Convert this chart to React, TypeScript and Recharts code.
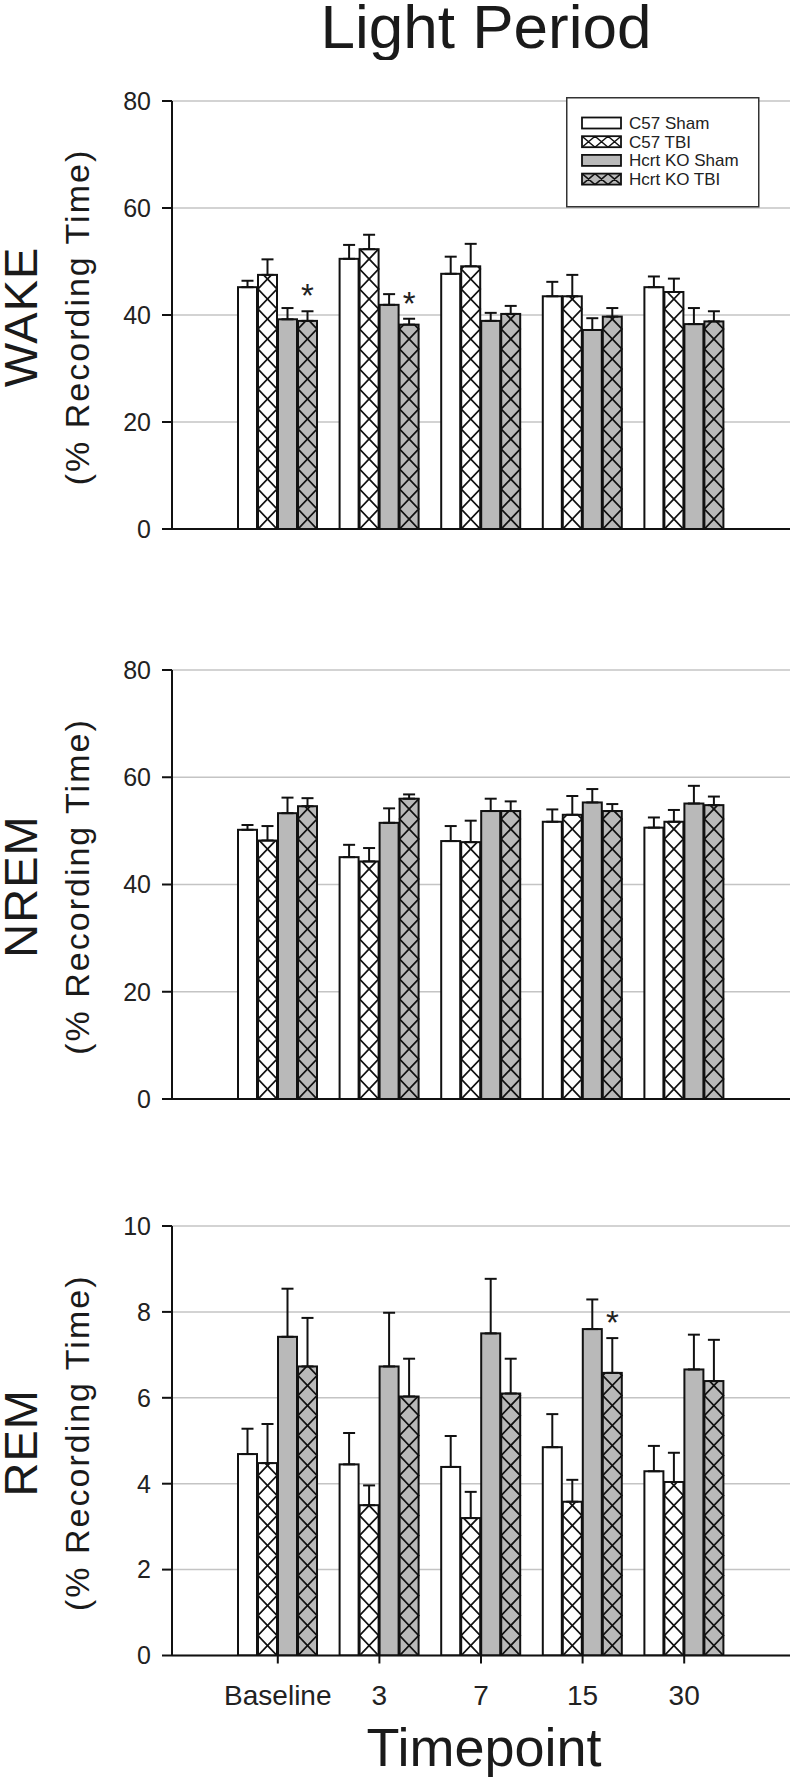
import React from 'react';
import {
  BarChart,
  Bar,
  XAxis,
  YAxis,
  CartesianGrid,
  ErrorBar,
  Legend,
} from 'recharts';

const FONT = '"Liberation Sans", Arial, sans-serif';

const timepoints = ['Baseline', '3', '7', '15', '30'];
const groups = ['C57 Sham', 'C57 TBI', 'Hcrt KO Sham', 'Hcrt KO TBI'];
const groupFill = ['#ffffff', '#ffffff', '#b9b9b9', '#b9b9b9'];
const groupHatch = [false, true, false, true];

// WAKE (% recording time), mean and SEM
const wakeC57Sham = [45.2, 50.5, 47.7, 43.5, 45.2];
const wakeC57ShamSem = [1.2, 2.6, 3.2, 2.7, 2.0];
const wakeC57Tbi = [47.5, 52.3, 49.1, 43.5, 44.3];
const wakeC57TbiSem = [2.9, 2.7, 4.2, 4.0, 2.5];
const wakeKoSham = [39.2, 41.9, 38.9, 37.2, 38.3];
const wakeKoShamSem = [2.1, 2.0, 1.5, 2.2, 3.0];
const wakeKoTbi = [38.9, 38.2, 40.2, 39.7, 38.8];
const wakeKoTbiSem = [1.8, 1.1, 1.5, 1.6, 1.9];
const wakeKoTbiSig = [1, 1, 0, 0, 0];

// NREM
const nremC57Sham = [50.2, 45.1, 48.1, 51.7, 50.6];
const nremC57ShamSem = [0.9, 2.3, 2.8, 2.3, 1.9];
const nremC57Tbi = [48.2, 44.3, 47.9, 53.0, 51.7];
const nremC57TbiSem = [2.7, 2.5, 4.0, 3.5, 2.2];
const nremKoSham = [53.3, 51.5, 53.7, 55.3, 55.1];
const nremKoShamSem = [2.9, 2.7, 2.3, 2.5, 3.3];
const nremKoTbi = [54.6, 56.0, 53.7, 53.7, 54.8];
const nremKoTbiSem = [1.5, 0.8, 1.8, 1.3, 1.6];

// REM
const remC57Sham = [4.69, 4.45, 4.39, 4.85, 4.29];
const remC57ShamSem = [0.59, 0.73, 0.72, 0.77, 0.59];
const remC57Tbi = [4.48, 3.5, 3.2, 3.58, 4.04];
const remC57TbiSem = [0.91, 0.46, 0.61, 0.51, 0.68];
const remKoSham = [7.42, 6.73, 7.5, 7.6, 6.66];
const remKoShamSem = [1.12, 1.25, 1.27, 0.69, 0.81];
const remKoTbi = [6.73, 6.03, 6.1, 6.58, 6.39];
const remKoTbiSem = [1.13, 0.88, 0.81, 0.81, 0.96];
const remKoTbiSig = [0, 0, 0, 1, 0];

const pctTicks = [0, 20, 40, 60, 80];
const remTicks = [0, 2, 4, 6, 8, 10];

function buildRows(means: number[][], sems: number[][], sig: number[] = []) {
  return timepoints.map((tp, i) => {
    const row: any = { tp };
    means.forEach((m, g) => {
      row[`g${g}`] = m[i];
      row[`e${g}`] = [0, sems[g][i]];
    });
    row.s3 = sig[i] || 0;
    return row;
  });
}

const wakeRows = buildRows(
  [wakeC57Sham, wakeC57Tbi, wakeKoSham, wakeKoTbi],
  [wakeC57ShamSem, wakeC57TbiSem, wakeKoShamSem, wakeKoTbiSem],
  wakeKoTbiSig
);
const nremRows = buildRows(
  [nremC57Sham, nremC57Tbi, nremKoSham, nremKoTbi],
  [nremC57ShamSem, nremC57TbiSem, nremKoShamSem, nremKoTbiSem]
);
const remRows = buildRows(
  [remC57Sham, remC57Tbi, remKoSham, remKoTbi],
  [remC57ShamSem, remC57TbiSem, remKoShamSem, remKoTbiSem],
  remKoTbiSig
);

// bar with optional cross-hatch, plus the significance star above its error bar
function HatchBar(props: any) {
  const { x, y, width, height, fill, hatch, g, payload } = props;
  if (!height || height <= 0) return null;
  const period = 20;
  const yb = y + height;
  const paths: string[] = [];
  if (hatch) {
    for (const startLeft of [true, false]) {
      let left = startLeft;
      let cy = yb;
      let d = `M${left ? x : x + width},${cy}`;
      while (cy > y + 0.01) {
        const ny = cy - period;
        if (ny < y) {
          const t = (cy - y) / period;
          const px = left ? x + t * width : x + width - t * width;
          d += ` L${px},${y}`;
          break;
        }
        d += ` L${left ? x + width : x},${ny}`;
        left = !left;
        cy = ny;
      }
      paths.push(d);
    }
  }
  let star = null;
  if (payload && payload[`s${g}`]) {
    const val = payload[`g${g}`];
    const sem = payload[`e${g}`][1];
    const top = y - (sem * height) / val;
    star = (
      <text x={x + width / 2} y={top - 4} textAnchor="middle" fontSize={33} fill="#222">
        *
      </text>
    );
  }
  return (
    <g>
      <rect x={x} y={y} width={width} height={height} fill={fill} />
      {paths.map((d, i) => (
        <path key={i} d={d} fill="none" stroke="#111" strokeWidth={1.8} />
      ))}
      <rect x={x} y={y} width={width} height={height} fill="none" stroke="#111" strokeWidth={2} />
      {star}
    </g>
  );
}

function YTitle(props: any) {
  const vb = props.viewBox || {};
  const cy = vb.y + vb.height / 2 + 2;
  return (
    <g>
      <text
        transform={`translate(37, ${cy}) rotate(-90)`}
        textAnchor="middle"
        fontSize={47}
        letterSpacing={1}
        fill="#1a1a1a"
      >
        {props.main}
      </text>
      <text
        transform={`translate(89, ${cy}) rotate(-90)`}
        textAnchor="middle"
        fontSize={34}
        letterSpacing={2}
        fill="#1a1a1a"
      >
        (% Recording Time)
      </text>
    </g>
  );
}

function XTitle(props: any) {
  const vb = props.viewBox || {};
  return (
    <text x={vb.x + vb.width / 2 + 3} y={vb.y + 110.5} textAnchor="middle" fontSize={54} fill="#1a1a1a">
      Timepoint
    </text>
  );
}

function LegendBox() {
  return (
    <svg width={194} height={111} style={{ display: 'block' }}>
      <rect x={0.75} y={0.75} width={192} height={109} fill="#fff" stroke="#333" strokeWidth={1.5} />
      {groups.map((name, i) => {
        const cy = 26 + i * 18.7;
        const top = cy - 5.5;
        let d = '';
        if (groupHatch[i]) {
          for (let k = 0; k < 3; k++) {
            const x0 = 16 + 13 * k;
            d += `M${x0},${top} L${x0 + 13},${top + 11} M${x0 + 13},${top} L${x0},${top + 11} `;
          }
        }
        return (
          <g key={name}>
            <rect x={16} y={top} width={39} height={11} fill={groupFill[i]} />
            {d && <path d={d} stroke="#111" strokeWidth={1.5} fill="none" />}
            <rect x={16} y={top} width={39} height={11} fill="none" stroke="#111" strokeWidth={1.8} />
            <text x={63} y={cy + 6} fontSize={17} fill="#222">
              {name}
            </text>
          </g>
        );
      })}
    </svg>
  );
}

interface PanelProps {
  top: number;
  height: number;
  marginTop: number;
  xHeight: number;
  title: string;
  ticks: number[];
  rows: any[];
  showX?: boolean;
  legend?: boolean;
}

function Panel({ top, height, marginTop, xHeight, title, ticks, rows, showX, legend }: PanelProps) {
  return (
    <div style={{ position: 'absolute', left: 0, top }}>
      <BarChart
        width={792}
        height={height}
        data={rows}
        margin={{ top: marginTop, right: 2, bottom: 0, left: 0 }}
        barGap={1}
        barCategoryGap={11}
      >
        <CartesianGrid vertical={false} stroke="#c4c4c4" strokeWidth={1.5} />
        <XAxis
          dataKey="tp"
          padding={{ left: 55, right: 55 }}
          height={xHeight}
          interval={0}
          tickSize={8}
          tickMargin={22}
          axisLine={{ stroke: '#111', strokeWidth: 2 }}
          tickLine={{ stroke: '#111', strokeWidth: 2 }}
          tick={showX ? { fontSize: 28, fill: '#222' } : false}
          label={showX ? (p: any) => <XTitle {...p} /> : undefined}
        />
        <YAxis
          domain={[0, ticks[ticks.length - 1]]}
          ticks={ticks}
          allowDataOverflow
          width={172}
          tickSize={10}
          tickMargin={11}
          axisLine={{ stroke: '#111', strokeWidth: 2 }}
          tickLine={{ stroke: '#111', strokeWidth: 2 }}
          tick={{ fontSize: 25, fill: '#222' }}
          label={(p: any) => <YTitle {...p} main={title} />}
        />
        {groups.map((name, g) => (
          <Bar
            key={name}
            dataKey={`g${g}`}
            name={name}
            fill={groupFill[g]}
            isAnimationActive={false}
            shape={(p: any) => <HatchBar {...p} hatch={groupHatch[g]} g={g} />}
          >
            <ErrorBar dataKey={`e${g}`} width={6} stroke="#111" strokeWidth={2} direction="y" />
          </Bar>
        ))}
        {legend && (
          <Legend
            layout="vertical"
            align="center"
            verticalAlign="middle"
            content={() => <LegendBox />}
            wrapperStyle={{ left: 566, top: 37, width: 194 }}
          />
        )}
      </BarChart>
    </div>
  );
}

export default function App() {
  return (
    <div
      style={{
        position: 'absolute',
        left: 0,
        top: 0,
        width: 792,
        height: 1778,
        background: '#fff',
        fontFamily: FONT,
      }}
    >
      <svg width={792} height={60} style={{ position: 'absolute', left: 0, top: 0 }}>
        <text x={486} y={48} textAnchor="middle" fontSize={62} fill="#1a1a1a">
          Light Period
        </text>
      </svg>
      <Panel top={60} height={500} marginTop={41} xHeight={31} title="WAKE" ticks={pctTicks} rows={wakeRows} legend />
      <Panel top={620} height={510} marginTop={50} xHeight={31} title="NREM" ticks={pctTicks} rows={nremRows} />
      <Panel top={1180} height={598} marginTop={46} xHeight={122.5} title="REM" ticks={remTicks} rows={remRows} showX />
    </div>
  );
}
